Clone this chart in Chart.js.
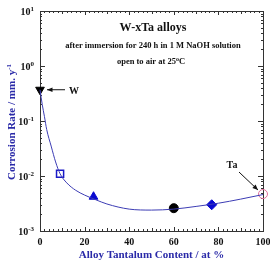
<!DOCTYPE html>
<html>
<head>
<meta charset="utf-8">
<script src="https://cdn.jsdelivr.net/npm/chart.js@4"></script>
<style>
  html, body { margin: 0; padding: 0; background: #fff; }
  #wrap { width: 270px; height: 260px; }
</style>
</head>
<body>
<div id="wrap"><canvas id="myChart" width="270" height="260"></canvas></div>
<script>
// fitted curve (Ta at%, rate mm/y)
var curveX = [0, 1, 2, 3, 5, 7, 9, 12, 16, 20, 25, 30, 40, 50, 60, 70, 80, 90, 100];
var curveY = [0.37, 0.2, 0.12, 0.07, 0.035, 0.018, 0.011, 0.0075, 0.0055, 0.0045, 0.0037, 0.0031, 0.0025, 0.0024, 0.0025, 0.0028, 0.0032, 0.0038, 0.0046];

// measured alloys
var alloyNames = ["W", "W-9Ta", "W-24Ta", "W-60Ta", "W-77Ta", "Ta"];
var alloyX = [0, 9, 24, 60, 77, 100];
var alloyY = [0.37, 0.011, 0.0042, 0.0026, 0.0030, 0.0047];

var xTicks = [0, 20, 40, 60, 80, 100];
var yExponents = [1, 0, -1, -2, -3];

var serif = "'Liberation Serif', 'Times New Roman', serif";
var blue = "#2a2aa8";

function pt(i) {
  return { x: alloyX[i], y: alloyY[i] };
}

// draws base + superscript (+ optional tail) as one run of text
function superText(ctx, base, sup, x, y, size, align, tail) {
  tail = tail || "";
  var small = Math.round(size * 0.65);
  ctx.font = "bold " + size + "px " + serif;
  var w1 = ctx.measureText(base).width;
  var w3 = ctx.measureText(tail).width;
  ctx.font = "bold " + small + "px " + serif;
  var w2 = ctx.measureText(sup).width;
  var total = w1 + w2 + w3;
  var start = x;
  if (align == "right") start = x - total;
  if (align == "center") start = x - total / 2;
  ctx.textAlign = "left";
  ctx.font = "bold " + size + "px " + serif;
  ctx.fillText(base, start, y);
  if (tail) ctx.fillText(tail, start + w1 + w2, y);
  ctx.font = "bold " + small + "px " + serif;
  ctx.fillText(sup, start + w1, y - size * 0.4);
}

function arrow(ctx, x1, y1, x2, y2) {
  ctx.beginPath();
  ctx.moveTo(x1, y1);
  ctx.lineTo(x2, y2);
  ctx.stroke();
  var a = Math.atan2(y2 - y1, x2 - x1);
  ctx.beginPath();
  ctx.moveTo(x2, y2);
  ctx.lineTo(x2 - 6 * Math.cos(a - 0.4), y2 - 6 * Math.sin(a - 0.4));
  ctx.lineTo(x2 - 6 * Math.cos(a + 0.4), y2 - 6 * Math.sin(a + 0.4));
  ctx.closePath();
  ctx.fill();
}

var axesPlugin = {
  id: "axesPlugin",
  beforeDatasetsDraw: function (chart) {
    var ctx = chart.ctx;
    var xs = chart.scales.x;
    var ys = chart.scales.y;
    var a = chart.chartArea;
    ctx.save();
    ctx.strokeStyle = "#333";
    ctx.lineWidth = 1;
    ctx.strokeRect(a.left + 0.5, a.top + 0.5, a.right - a.left, a.bottom - a.top);

    // x ticks, bottom and top, inward
    ctx.beginPath();
    for (var v = 0; v <= 100; v += 2) {
      var px = Math.round(xs.getPixelForValue(v)) + 0.5;
      var len = v % 20 == 0 ? 4 : (v % 10 == 0 ? 3 : 2);
      ctx.moveTo(px, a.bottom);
      ctx.lineTo(px, a.bottom - len);
      ctx.moveTo(px, a.top);
      ctx.lineTo(px, a.top + len);
    }
    // y ticks, left and right
    for (var e = -3; e < 1; e++) {
      for (var m = 1; m < 10; m++) {
        var py = Math.round(ys.getPixelForValue(m * Math.pow(10, e))) + 0.5;
        var l = m == 1 ? 5 : 2;
        ctx.moveTo(a.left, py);
        ctx.lineTo(a.left + l, py);
        ctx.moveTo(a.right, py);
        ctx.lineTo(a.right - l, py);
      }
    }
    ctx.stroke();

    // tick labels
    ctx.fillStyle = "#111";
    ctx.textBaseline = "alphabetic";
    ctx.font = "bold 10px " + serif;
    ctx.textAlign = "center";
    xTicks.forEach(function (t) {
      ctx.fillText(String(t), xs.getPixelForValue(t), a.bottom + 14);
    });
    yExponents.forEach(function (e) {
      superText(ctx, "10", String(e), a.left - 6, ys.getPixelForValue(Math.pow(10, e)) + 4, 10, "right");
    });

    // axis titles
    ctx.fillStyle = blue;
    ctx.font = "bold 11px " + serif;
    ctx.textAlign = "center";
    ctx.fillText("Alloy Tantalum Content / at %", (a.left + a.right) / 2, 258);
    ctx.save();
    ctx.translate(15, 122);
    ctx.rotate(-Math.PI / 2);
    superText(ctx, "Corrosion Rate / mm. y", "-1", 0, 0, 11, "center");
    ctx.restore();

    // in-plot titles
    ctx.fillStyle = "#111";
    ctx.textAlign = "center";
    ctx.font = "bold 12px " + serif;
    ctx.fillText("W-xTa alloys", 153, 31);
    ctx.font = "bold 8.5px " + serif;
    ctx.fillText("after immersion for 240 h in 1 M NaOH solution", 153, 48);
    superText(ctx, "open to air at 25", "o", 151, 64, 8.5, "center", "C");

    // annotations
    ctx.strokeStyle = "#111";
    ctx.fillStyle = "#111";
    var wx = xs.getPixelForValue(alloyX[0]);
    var wy = ys.getPixelForValue(alloyY[0]);
    arrow(ctx, wx + 25, wy, wx + 7, wy);
    ctx.font = "bold 10px " + serif;
    ctx.textAlign = "left";
    ctx.fillText("W", wx + 29, wy + 4);
    var tx = xs.getPixelForValue(alloyX[5]);
    var ty = ys.getPixelForValue(alloyY[5]);
    arrow(ctx, tx - 24, ty - 22, tx - 5, ty - 4);
    ctx.textAlign = "center";
    ctx.fillText("Ta", tx - 31, ty - 26);
    ctx.restore();
  }
};

var ctx = document.getElementById("myChart");
var myChart = new Chart(ctx, {
  type: "scatter",
  data: {
    datasets: [
      {
        type: "line",
        data: curveX.map(function (x, i) { return { x: x, y: curveY[i] }; }),
        borderColor: "#3c3cb4",
        borderWidth: 1,
        pointRadius: 0,
        fill: false,
        cubicInterpolationMode: "monotone"
      },
      { data: [pt(0)], pointStyle: "triangle", rotation: 180, pointRadius: 5, backgroundColor: "#000", borderColor: "#000" },
      { data: [pt(1)], pointStyle: "rect", pointRadius: 5, backgroundColor: "#fff", borderColor: "#1a1ac8", borderWidth: 1.5 },
      { data: [pt(2)], pointStyle: "triangle", pointRadius: 5, backgroundColor: "#0a0ad0", borderColor: "#0a0ad0" },
      { data: [pt(3)], pointStyle: "circle", pointRadius: 4.5, backgroundColor: "#000", borderColor: "#000" },
      { data: [pt(4)], pointStyle: "rectRot", pointRadius: 5, backgroundColor: "#0a0ad0", borderColor: "#0a0ad0" },
      { data: [pt(5)], pointStyle: "circle", pointRadius: 4.5, backgroundColor: "rgba(255,255,255,0)", borderColor: "#e0709a", borderWidth: 1 }
    ]
  },
  options: {
    responsive: false,
    animation: false,
    layout: { padding: { left: 40, right: 7, top: 11, bottom: 29 } },
    plugins: { legend: { display: false }, tooltip: { enabled: false } },
    elements: { point: { hoverRadius: 5 } },
    datasets: { scatter: { clip: false }, line: { clip: false } },
    scales: {
      x: { type: "linear", min: 0, max: 100, display: false },
      y: { type: "logarithmic", min: 0.001, max: 10, display: false }
    }
  },
  plugins: [axesPlugin]
});
</script>
</body>
</html>
